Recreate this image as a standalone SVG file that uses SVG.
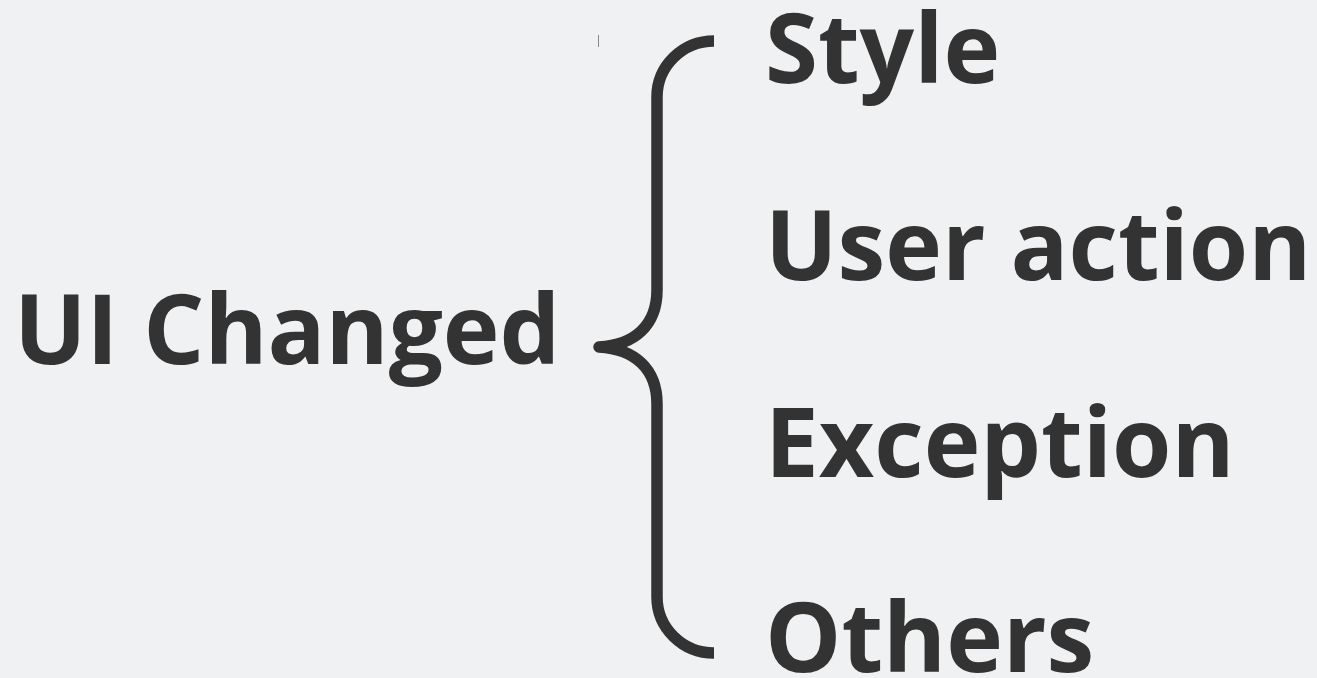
<svg xmlns="http://www.w3.org/2000/svg" width="1317" height="678" viewBox="0 0 1317 678">
<style>
.t{font-family:"Open Sans","Liberation Sans",sans-serif;font-weight:700;font-size:96px;fill:#333333}
.brace{fill:none;stroke:#333333;stroke-width:11.5;stroke-linecap:butt;stroke-linejoin:round}
</style>
<rect width="1317" height="678" fill="#f0f1f3"/>
<g id="root"><text class="t" x="14" y="364">UI Changed</text></g>
<g id="connectors">
<path class="brace" d="M714,41 A57 56 0 0 0 657,97 L657,290 C657,325 635,345 599,347 C635,349 657,369 657,404 L657,597 A57 56 0 0 0 714,653"/>
<line x1="598.5" y1="35" x2="598.5" y2="47" stroke="#888888" stroke-width="1"/>
</g>
<g id="style"><text class="t" x="765" y="83">Style</text></g>
<g id="user-action"><text class="t" x="765" y="280">User action</text></g>
<g id="exception"><text class="t" x="765" y="477">Exception</text></g>
<g id="others"><text class="t" x="765" y="672">Others</text></g>
</svg>
